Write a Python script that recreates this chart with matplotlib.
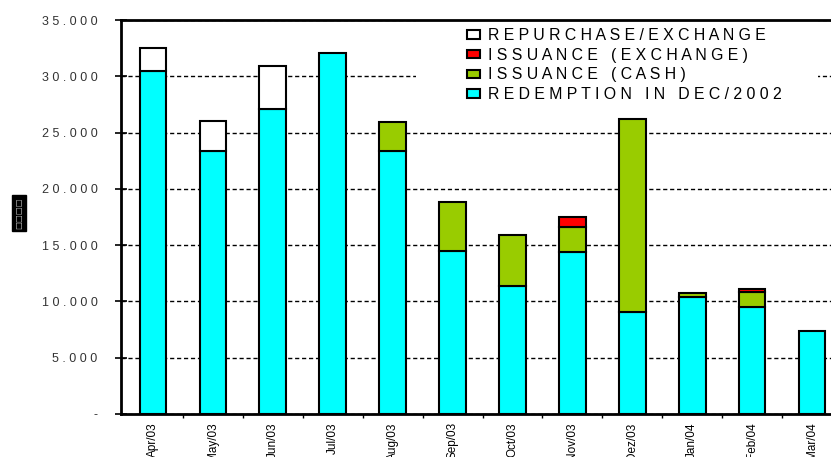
import matplotlib.pyplot as plt
import numpy as np
from matplotlib.patches import Patch, Rectangle
from matplotlib.ticker import FixedLocator, FuncFormatter

plt.rcParams["font.family"] = ["Liberation Sans", "DejaVu Sans"]

# data (R$ million)
months = ["Apr/03", "May/03", "Jun/03", "Jul/03", "Aug/03", "Sep/03",
          "Oct/03", "Nov/03", "Dez/03", "Jan/04", "Feb/04", "Mar/04"]
redemption = [30500, 23400, 27100, 32100, 23400, 14500,
              11400, 14400, 9100, 10400, 9500, 7400]
issuance_cash = [0, 0, 0, 0, 2500, 4300, 4500, 2200, 17100, 350, 1350, 0]
issuance_exch = [0, 0, 0, 0, 0, 0, 0, 900, 0, 0, 250, 0]
repurchase = [2000, 2600, 3800, 0, 0, 0, 0, 0, 0, 0, 0, 0]

CYAN = "#00ffff"
GREEN = "#99cc00"
RED = "#ff0000"


def spaced(s, sep=" "):
    return sep.join(s)


fig = plt.figure(figsize=(8.31, 4.57), dpi=100)
ax = fig.add_axes([121 / 831, 43 / 457, 723 / 831, 394 / 457])

x = np.arange(len(months))
w = 0.44
kw = dict(width=w, edgecolor="black", linewidth=1.5, zorder=3)

b0 = np.array(redemption)
b1 = b0 + np.array(issuance_cash)
b2 = b1 + np.array(issuance_exch)

ax.bar(x, redemption, color=CYAN, **kw)
h_cash = ax.bar(x, issuance_cash, bottom=b0, color=GREEN, **kw)
h_exch = ax.bar(x, issuance_exch, bottom=b1, color=RED, **kw)
h_rep = ax.bar(x, repurchase, bottom=b2, color="white", **kw)

# hide zero-height segments
for bars, vals in [(h_cash, issuance_cash), (h_exch, issuance_exch), (h_rep, repurchase)]:
    for b, v in zip(bars, vals):
        if v == 0:
            b.set_visible(False)

ax.set_xlim(-0.53, len(months) - 0.47)
ax.set_ylim(0, 35000)

# y axis
ax.set_yticks(np.arange(0, 35001, 5000))
ax.yaxis.set_major_formatter(FuncFormatter(
    lambda v, p: "-" if v == 0 else spaced(f"{v:,.0f}".replace(",", "."))))
ax.tick_params(axis="y", direction="inout", length=8, width=1.2,
               labelsize=9, labelcolor="#333333", pad=13)
ax.yaxis.grid(True, color="black", linestyle=(0, (3, 2)), linewidth=1.0, zorder=1)

# x axis: labels at bars, ticks between
ax.set_xticks(x)
ax.set_xticklabels(months, rotation=90, fontsize=8.5, va="top")
ax.xaxis.set_minor_locator(FixedLocator(x[:-1] + 0.5))
ax.tick_params(axis="x", which="major", length=0, pad=6)
ax.tick_params(axis="x", which="minor", direction="out", length=3, width=1)

for s in ["left", "bottom", "top"]:
    ax.spines[s].set_linewidth(2)
ax.spines["right"].set_visible(False)

# white legend area covering the gridline
ax.add_patch(Rectangle(((416 - 121) / 723, 1 - 88 / 394), 402 / 723, 88 / 394,
                       transform=ax.transAxes, facecolor="white",
                       edgecolor="none", zorder=2))

# legend
handles = [Patch(facecolor=c, edgecolor="black", linewidth=1.5)
           for c in ["white", RED, GREEN, CYAN]]
labels = [spaced("REPURCHASE/EXCHANGE"), spaced("ISSUANCE (EXCHANGE)"),
          spaced("ISSUANCE (CASH)"), spaced("REDEMPTION IN DEC/2002")]
leg = ax.legend(handles, labels, loc="upper left",
                bbox_to_anchor=(338 / 723, 1.0), frameon=False,
                fontsize=11.4,
                handlelength=0.8, handleheight=0.45, handletextpad=0.5,
                labelspacing=0.3, borderpad=0.3, borderaxespad=0.2)
leg.set_zorder(5)

# y label (rendered as boxes in the source)
fig.text(19 / 831, 1 - 213 / 457, "\u25a1\u25a1\u25a1\u25a1", rotation=90,
         ha="center", va="center", fontsize=6, color="#bbbbbb",
         family="DejaVu Sans",
         bbox=dict(facecolor="black", edgecolor="black", pad=1.5))

fig.savefig("out.png", dpi=100)
